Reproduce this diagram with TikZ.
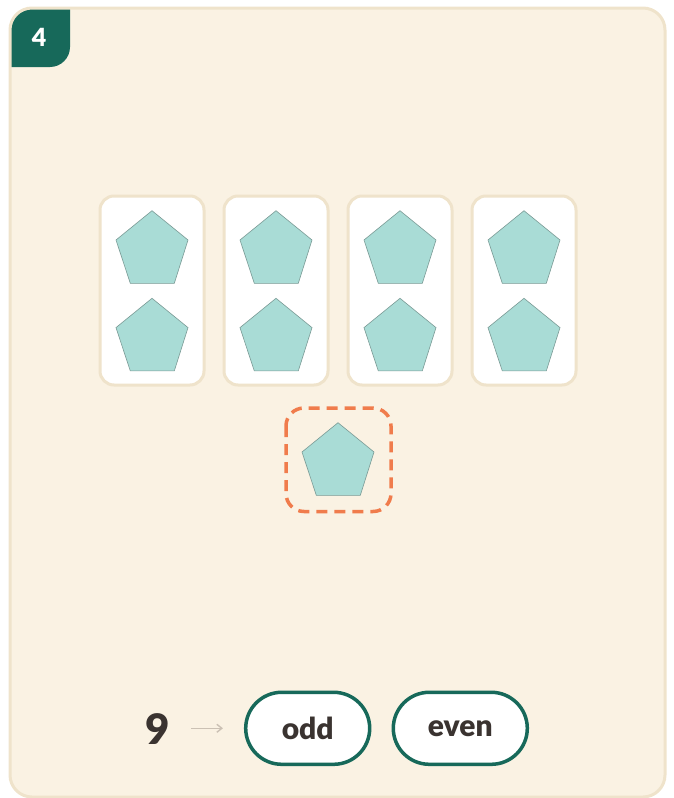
\documentclass[tikz,border=0pt]{standalone}
\usepackage{fontspec}
\setmainfont{Lato}[BoldFont={Lato Black}]
\usetikzlibrary{arrows.meta}

\definecolor{pagebg}{HTML}{FAF2E3}
\definecolor{cardline}{HTML}{EFE3CB}
\definecolor{tealdark}{HTML}{17695A}
\definecolor{inkdark}{HTML}{3A3330}
\definecolor{dashorange}{HTML}{F07C4C}
\definecolor{pentfill}{HTML}{A9DCD6}
\definecolor{pentline}{HTML}{7A9A95}
\definecolor{arrowgray}{HTML}{CBC1B4}

\tikzset{
  pairbox/.style={draw=cardline, fill=white, line width=3pt, rounded corners=14pt},
  extrabox/.style={draw=dashorange, line width=3.5pt, rounded corners=18pt, dash pattern=on 11pt off 7pt},
  choice/.style={draw=tealdark, fill=white, line width=3.5pt, rounded corners=36pt,
    minimum height=72pt, inner sep=0pt, text=inkdark, font=\fontsize{30}{30}\selectfont\bfseries},
  pentagon/.pic={
    \filldraw[fill=pentfill, draw=pentline, line width=0.6pt]
      (0,0) -- (36,29.3) -- (22.3,72.6) -- (-21.7,72.6) -- (-36,29.3) -- cycle;
  }
}

\begin{document}
\begin{tikzpicture}[x=1pt, y=-1pt]
\useasboundingbox (0,0) rectangle (673,798);

% Carte de fond
\fill[pagebg] (10,8) [rounded corners=22pt] rectangle (665,797);
\begin{scope}
  \clip (10,8) [rounded corners=22pt] rectangle (665,797);
  \fill[tealdark] (0,0) -- (70,0) -- (70,47) arc[start angle=0, end angle=90, radius=20] -- (0,67) -- cycle;
\end{scope}
\draw[cardline, line width=3pt] (10,8) [rounded corners=22pt] rectangle (665,797);
\node[text=white, font=\fontsize{25}{25}\selectfont\bfseries] (num) at (39,37) {4};

% Paires
\foreach \i in {0,1,2,3} {
  \draw[pairbox] ({100+124*\i},196) rectangle ({204+124*\i},385);
  \pic at ({152+124*\i},210.7) {pentagon};
  \pic at ({152+124*\i},298.3) {pentagon};
}

% Pentagone seul
\draw[extrabox] (286,408) rectangle (391,511.5);
\pic at (338,422.7) {pentagon};

% Réponse
\node[text=inkdark, font=\fontsize{42}{42}\selectfont\bfseries, inner sep=0pt] (nine) at (158,729) {9};
\node[choice, minimum width=124pt] (odd) at (307.7,728.3) {odd};
\node[choice, minimum width=134pt] (even) at (460.3,728.3) {even};
\draw[-{Straight Barb[length=5pt, width=8pt]}, arrowgray, line width=1.4pt,
  shorten <=21pt, shorten >=21pt] (nine.east |- odd) -- (odd.west);

\end{tikzpicture}
\end{document}
